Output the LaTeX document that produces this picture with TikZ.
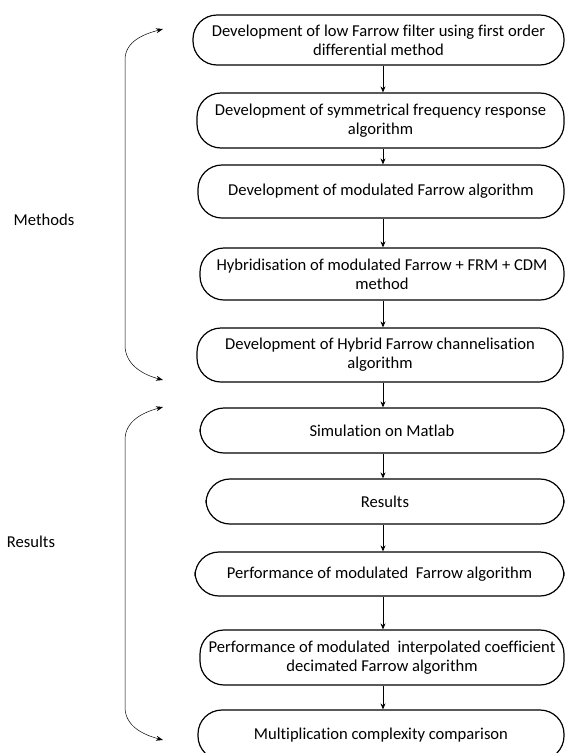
\documentclass[tikz,border=0pt]{standalone}
\usepackage{fontspec}
\setmainfont[Ligatures=NoCommon]{Carlito}
\usetikzlibrary{arrows.meta}
\begin{document}
\begin{tikzpicture}[x=1pt,y=-1pt,
  every node/.style={font=\fontsize{16.6}{19}\selectfont,align=center,inner sep=0pt},
  stage/.style={draw,line width=1.2pt,rounded corners=24pt},
  flow/.style={-{Stealth[length=6pt,width=5pt]},line width=0.7pt},
  side/.style={{Stealth[length=7pt,width=5pt]}-{Stealth[length=7pt,width=5pt]},line width=0.5pt}]
\useasboundingbox (0,0) rectangle (566,753);

\node[stage,minimum width=371pt,minimum height=50pt] (m_1) at (378.5,40)  {Development of low Farrow filter using first order\\differential method};
\node[stage,minimum width=367pt,minimum height=55pt] (m_2) at (380.5,120.5) {Development of symmetrical frequency response\\algorithm};
\node[stage,minimum width=366pt,minimum height=53pt] (m_3) at (381,191.5) {Development of modulated Farrow algorithm};
\node[stage,minimum width=364pt,minimum height=52pt] (m_4) at (382,274)   {Hybridisation of modulated Farrow + FRM + CDM\\method};
\node[stage,minimum width=366pt,minimum height=54pt] (m_5) at (380,355)   {Development of Hybrid Farrow channelisation\\algorithm};

\node[stage,minimum width=364pt,minimum height=45pt] (r_1) at (382,430.5) {Simulation on Matlab};
\node[stage,minimum width=358pt,minimum height=45pt] (r_2) at (385,501.5) {Results};
\node[stage,minimum width=369pt,minimum height=44pt] (r_3) at (379.5,574) {Performance of modulated~ Farrow algorithm};
\node[stage,minimum width=364pt,minimum height=55pt] (r_4) at (382,657.5) {Performance of modulated~ interpolated coefficient\\decimated Farrow algorithm};
\node[stage,minimum width=366pt,minimum height=50pt] (r_5) at (381,735)   {Multiplication complexity comparison};

% arrows down the middle
\coordinate (col) at (383,0);
\foreach \a/\b in {m_1/m_2,m_2/m_3,m_3/m_4,m_4/m_5,m_5/r_1,r_1/r_2,r_2/r_3,r_3/r_4,r_4/r_5}
  \draw[flow] (\a.south -| col) -- (\b.north -| col);

% side brackets
\coordinate (mt) at (163,29);
\coordinate (mb) at (163,380);
\coordinate (rt) at (163,407);
\coordinate (rb) at (163,740);
\draw[side] (mt) to[out=195,in=90] (125,60) -- (125,345) to[out=-90,in=165] (mb);
\draw[side] (rt) to[out=195,in=90] (125,440) -- (125,707) to[out=-90,in=165] (rb);

\node (methods) at (44,220) {Methods};
\node (results) at (31,542) {Results};
\end{tikzpicture}
\end{document}
